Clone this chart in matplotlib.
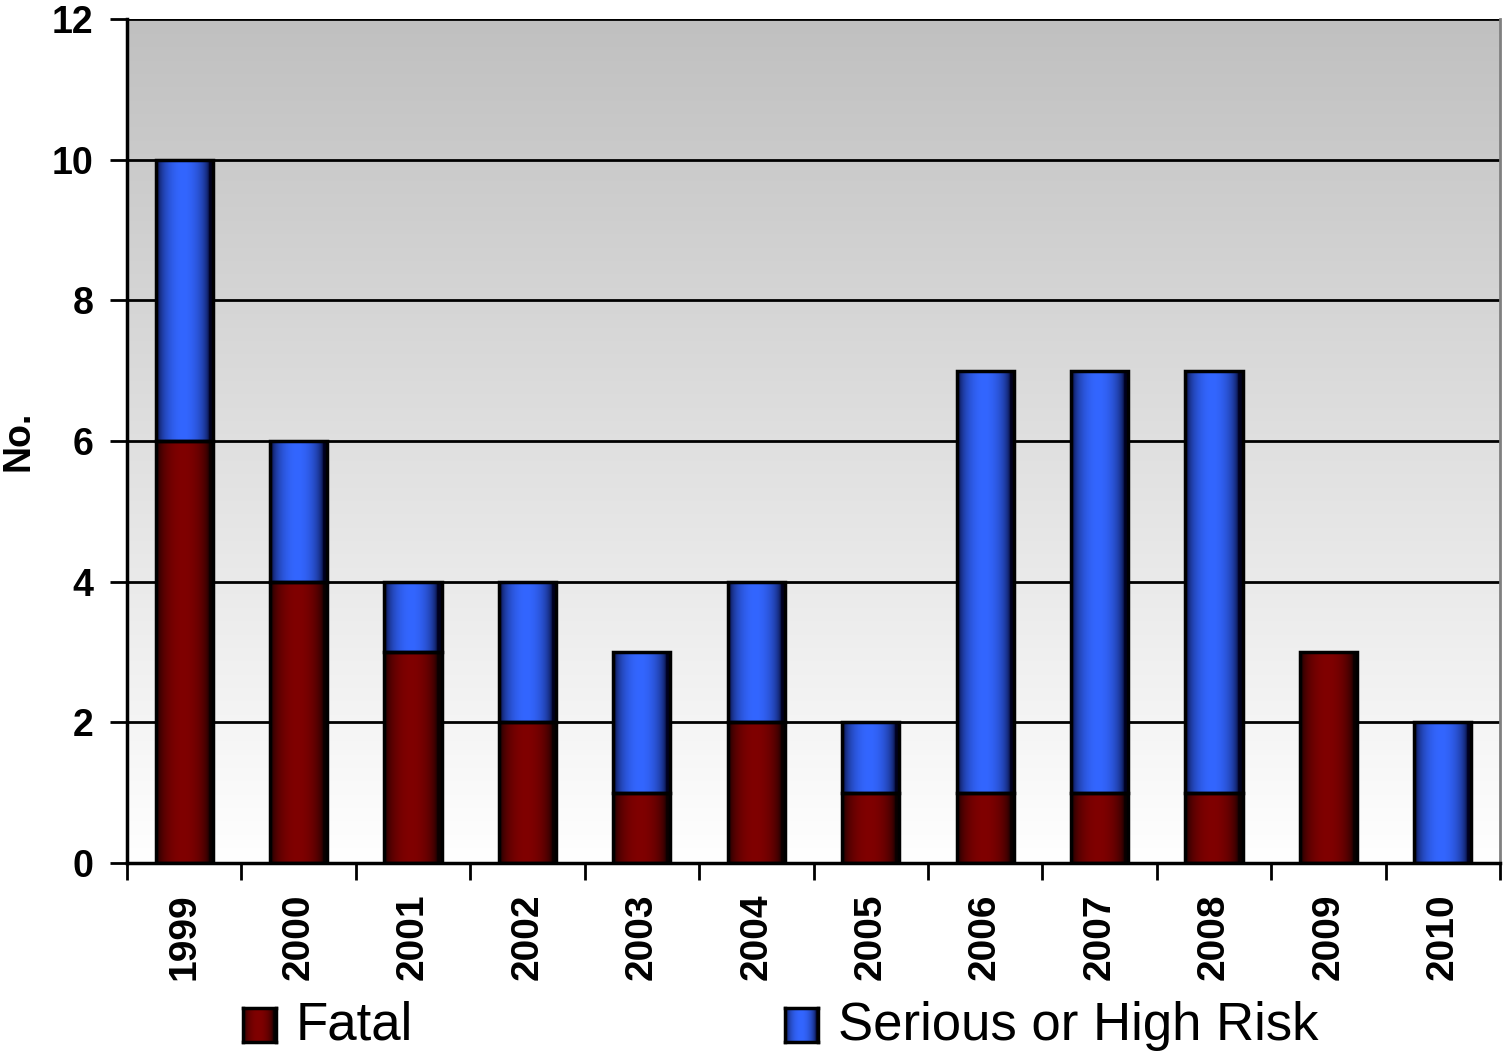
import numpy as np
import matplotlib
matplotlib.use("Agg")
from matplotlib import pyplot as plt
from matplotlib.patches import Rectangle

# data
years = ['1999', '2000', '2001', '2002', '2003', '2004', '2005', '2006', '2007', '2008', '2009', '2010']
fatal = [6, 4, 3, 2, 1, 2, 1, 1, 1, 1, 3, 0]
serious = [4, 2, 1, 2, 2, 2, 1, 6, 6, 6, 0, 2]
legendNames = ['Fatal', 'Serious or High Risk']
yTicks = [0, 2, 4, 6, 8, 10, 12]

fatalColor = np.array([128, 0, 0]) / 255.0
seriousColor = np.array([51, 102, 255]) / 255.0
seriousEdge = np.array([0, 0, 30]) / 255.0
fatalEdge = np.array([10, 0, 0]) / 255.0


def gradient(center, edge, n=200):
    # horizontal "cylinder" shading: dark at both sides, bright near the middle
    t = np.linspace(0, 1, n)
    f = np.clip(np.sin(np.pi * np.clip((t - 0.02) / 0.9, 0, 1)) ** 0.45, 0, 1)
    rgb = edge[None, :] * (1 - f[:, None]) + center[None, :] * f[:, None]
    return rgb[None, :, :]


def drawBar(ax, x, bottom, height, width, center, edge):
    if height <= 0:
        return
    ax.imshow(gradient(center, edge), extent=(x - width / 2, x + width / 2, bottom, bottom + height),
              aspect='auto', interpolation='bilinear', zorder=3)
    ax.add_patch(Rectangle((x - width / 2, bottom), width, height, fill=False,
                           ec='k', lw=2.5, zorder=4))


plt.rcParams['font.family'] = ['Liberation Sans', 'DejaVu Sans']

fig = plt.figure(figsize=(15.03, 10.54), dpi=100)
ax = fig.add_axes([127 / 1503, 1 - 863 / 1054, (1500 - 127) / 1503, (863 - 19) / 1054])

# background gradient: white at the bottom, gray at the top
bg = np.linspace(255, 192, 256)[:, None] / 255.0
bg = np.repeat(bg[:, :, None], 3, axis=2)
ax.imshow(bg, extent=(-0.5, 11.5, 0, 12), origin='lower', aspect='auto',
          interpolation='bilinear', zorder=0)

for v in yTicks[1:]:
    ax.axhline(v, color='k', lw=2, zorder=1)

barWidth = 0.5
for i in range(len(years)):
    drawBar(ax, i, 0, fatal[i], barWidth, fatalColor, fatalEdge)
    drawBar(ax, i, fatal[i], serious[i], barWidth, seriousColor, seriousEdge)

ax.set_xlim(-0.5, 11.5)
ax.set_ylim(0, 12)
ax.set_yticks(yTicks)
ax.set_yticklabels([str(v) for v in yTicks], fontsize=27, fontweight='bold')
ax.set_xticks(range(len(years)))
ax.set_xticklabels(years, rotation=90, fontsize=28, fontweight='bold')
ax.set_xticks(np.arange(-0.5, 12, 1), minor=True)
ax.tick_params(axis='x', which='major', length=0, pad=22)
ax.tick_params(axis='x', which='minor', length=12, width=2, direction='out')
ax.tick_params(axis='y', length=12, width=2, direction='out', pad=12)

for s in ['left', 'bottom']:
    ax.spines[s].set_linewidth(2.5)
    ax.spines[s].set_zorder(5)
ax.spines['top'].set_visible(False)
ax.spines['right'].set_color('#808080')
ax.spines['right'].set_linewidth(2)

ax.set_ylabel('No.', fontsize=27, fontweight='bold')
ax.yaxis.set_label_coords(-0.066, 0.5)

# legend drawn along the bottom edge
legendColors = [(fatalColor, fatalEdge), (seriousColor, seriousEdge)]
legendX = [243, 785]
for name, (c, e), lx in zip(legendNames, legendColors, legendX):
    la = fig.add_axes([lx / 1503, 1 - 1042 / 1054, 33 / 1503, 34 / 1054])
    la.imshow(gradient(c, e), aspect='auto', interpolation='bilinear')
    la.set_xticks([])
    la.set_yticks([])
    for s in la.spines.values():
        s.set_linewidth(2.5)
    fig.text((lx + 53) / 1503, 1 - 1040 / 1054, name, fontsize=38, va='baseline', ha='left')

fig.savefig('out.png', dpi=100)
